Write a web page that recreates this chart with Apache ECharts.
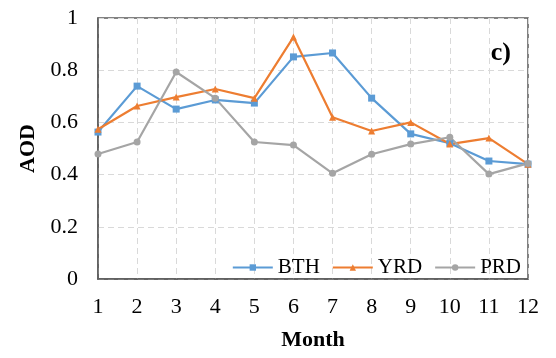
<!DOCTYPE html>
<html><head><meta charset="utf-8">
<script src="https://cdn.jsdelivr.net/npm/echarts@6/dist/echarts.min.js"></script>
<style>html,body{margin:0;padding:0;background:#fff}#c{width:556px;height:358px}</style>
</head><body><div id="c"></div>
<script>
const months = ['1','2','3','4','5','6','7','8','9','10','11','12'];
const bth = [0.563,0.739,0.651,0.686,0.674,0.851,0.866,0.693,0.556,0.52,0.452,0.44];
const yrd = [0.574,0.663,0.697,0.728,0.693,0.927,0.62,0.567,0.60,0.517,0.54,0.44];
const prd = [0.479,0.525,0.793,0.693,0.525,0.513,0.405,0.478,0.517,0.543,0.402,0.443];
const yTicks = [0,0.2,0.4,0.6,0.8,1];
const FONT = '"Liberation Serif","Times New Roman",serif';
const chart = echarts.init(document.getElementById('c'));
const gridLine = {show:true,lineStyle:{color:'#d9d9d9',type:[6,4],width:1}};
function s(name,data,color,symbol){
  return {name,type:'line',data,symbol,symbolSize:7,showSymbol:true,
    lineStyle:{color,width:2.2},itemStyle:{color},z:3,animation:false};
}
chart.setOption({
  animation:false,
  grid:{left:98,right:28,top:18,bottom:79,show:true,borderColor:'#595959',borderWidth:1.5,backgroundColor:'transparent'},
  title:{text:'c)',right:40,top:35,textStyle:{fontFamily:FONT,fontWeight:'bold',fontSize:26,color:'#000'}},
  legend:{right:30,top:252,itemWidth:40,itemHeight:8,itemGap:12,
    textStyle:{fontFamily:FONT,fontSize:21,color:'#000'},data:['BTH','YRD','PRD']},
  xAxis:{type:'category',data:months,boundaryGap:false,name:'Month',nameLocation:'middle',nameGap:50,
    nameTextStyle:{fontFamily:FONT,fontWeight:'bold',fontSize:22,color:'#000'},
    axisLine:{lineStyle:{color:'#595959',width:1.5}},axisTick:{show:false},
    axisLabel:{fontFamily:FONT,fontSize:22,color:'#000',margin:17},splitLine:gridLine},
  yAxis:{type:'value',min:0,max:1,interval:0.2,name:'AOD',nameLocation:'middle',nameGap:57,
    nameTextStyle:{fontFamily:FONT,fontWeight:'bold',fontSize:22,color:'#000'},
    axisLine:{show:true,lineStyle:{color:'#595959',width:1.5}},axisTick:{show:false},
    axisLabel:{fontFamily:FONT,fontSize:22,color:'#000',margin:20,
      formatter:v=>{const t=yTicks.find(x=>Math.abs(x-v)<1e-9);return t===undefined?'':String(t);}},
    splitLine:gridLine},
  series:[s('BTH',bth,'#5B9BD5','rect'),s('YRD',yrd,'#ED7D31','triangle'),s('PRD',prd,'#A5A5A5','circle')]
});
</script></body></html>
